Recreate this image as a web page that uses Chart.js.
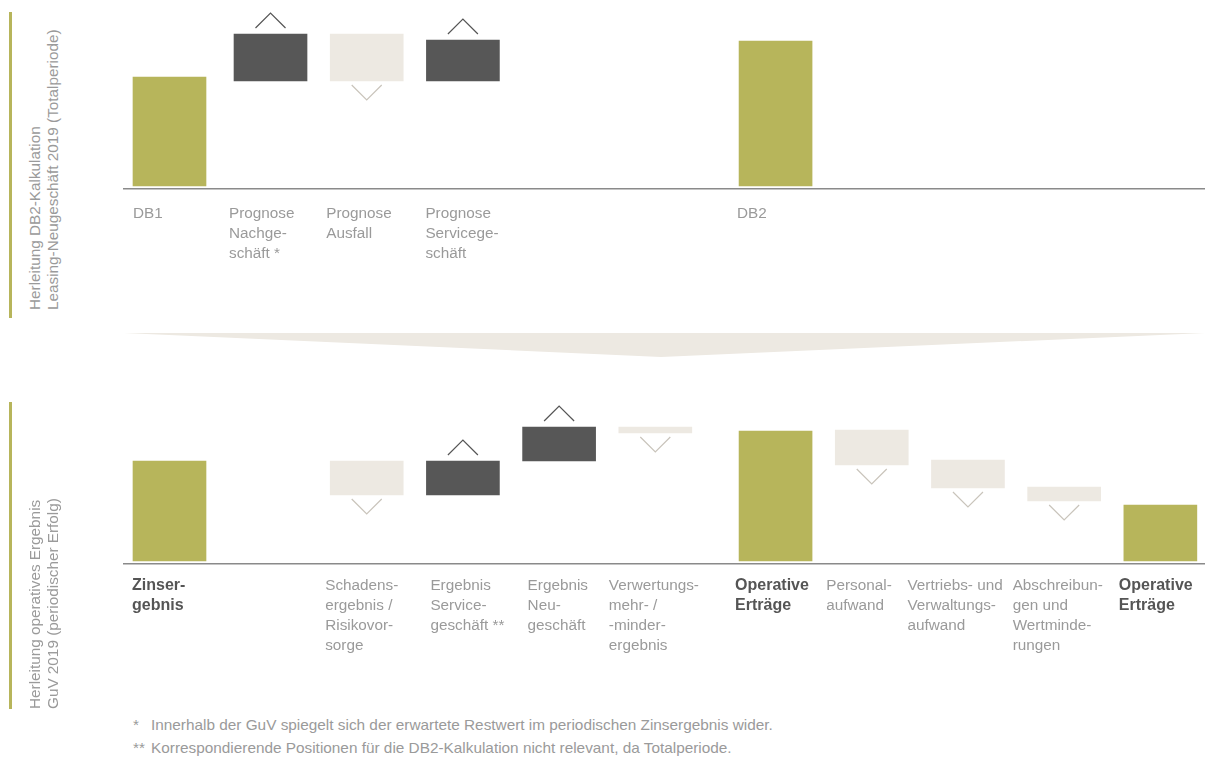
<!DOCTYPE html>
<html><head><meta charset="utf-8">
<script src="https://cdn.jsdelivr.net/npm/chart.js@4"></script>
<style>
html,body{margin:0;padding:0;background:#fff;}
body{width:1205px;height:758px;position:relative;overflow:hidden;font-family:"Liberation Sans",Arial,sans-serif;}
.olive{position:absolute;left:9px;width:3px;background:#b7b55b;}
.side{position:absolute;left:26px;width:320px;transform:rotate(-90deg);transform-origin:0 0;font-size:15.3px;line-height:18px;color:#9a9a9a;white-space:nowrap;}
canvas{position:absolute;left:0;}
.note{position:absolute;left:133px;font-size:15.35px;line-height:18px;color:#9a9a9a;white-space:nowrap;}
.note span{display:inline-block;width:18px;}
</style></head>
<body>
<div class="olive" style="top:12px;height:306px"></div>
<div class="side" style="top:310px">Herleitung DB2-Kalkulation<br>Leasing-Neugeschäft 2019 (Totalperiode)</div>
<canvas id="c1" width="1205" height="300" style="top:0"></canvas>

<svg style="position:absolute;left:0;top:0" width="1205" height="400"><polygon points="124,333 1205,333 661,357" fill="#ede9e2"/></svg>

<div class="olive" style="top:402px;height:307px"></div>
<div class="side" style="top:709px">Herleitung operatives Ergebnis<br>GuV 2019 (periodischer Erfolg)</div>
<canvas id="c2" width="1205" height="300" style="top:390px"></canvas>

<div class="note" style="top:716px"><span>*</span>Innerhalb der GuV spiegelt sich der erwartete Restwert im periodischen Zinsergebnis wider.</div>
<div class="note" style="top:739px"><span>**</span>Korrespondierende Positionen für die DB2-Kalkulation nicht relevant, da Totalperiode.</div>

<script>
// ---- data ----
const topCategories = [['DB1'], ['Prognose','Nachge-','schäft *'], ['Prognose','Ausfall'], ['Prognose','Servicege-','schäft'], null, null, ['DB2']];
const topStart = [0, 105, 105, 105, null, null, 0];
const topEnd   = [109, 152, 152, 146, null, null, 145];
const topKinds = ['total', 'plus', 'minus', 'plus', null, null, 'total'];

const bottomCategories = [['Zinser-','gebnis'], null, ['Schadens-','ergebnis /','Risikovor-','sorge'], ['Ergebnis','Service-','geschäft **'], ['Ergebnis','Neu-','geschäft'], ['Verwertungs-','mehr- /','-minder-','ergebnis'], ['Operative','Erträge'], ['Personal-','aufwand'], ['Vertriebs- und','Verwaltungs-','aufwand'], ['Abschreibun-','gen und','Wertminde-','rungen'], ['Operative','Erträge']];
const bottomStart = [0, null, 66, 66, 100, 128, 0, 96, 73, 60, 0];
const bottomEnd   = [100, null, 100, 100, 134, 134, 130, 131, 101, 74, 56];
const bottomKinds = ['total', null, 'minus', 'plus', 'plus', 'minus', 'total', 'minus', 'minus', 'minus', 'total'];

// ---- layout / style ----
const FAMILY = '"Liberation Sans", Arial, sans-serif';
const COLORS = { total: '#b7b55b', plus: '#575757', minus: '#ede9e2' };
const BAR_W = 73;
const PX_PER_SLOT = 96.2;
const FIRST_CENTER = 169.5, AREA_LEFT = 124, AREA_RIGHT = 1205;
const X_MIN = -(FIRST_CENTER - AREA_LEFT) / PX_PER_SLOT;
const X_MAX = X_MIN + (AREA_RIGHT - AREA_LEFT) / PX_PER_SLOT;
const slotPos = i => i + (i >= 1 ? 0.05 : 0) + (i >= 6 ? 0.25 : 0);
// label text offset (px) from the left edge of its bar, per slot
const topLabelNudge    = [0, -5, -4, -1, 0, 0, -2];
const bottomLabelNudge = [-1, 0, -5, 4, 5, -10, -4, -9, -24, -15, -5];

const chevronPlugin = {
  id: 'chevrons',
  afterDatasetsDraw(chart) {
    const meta = chart.getDatasetMeta(0);
    const kinds = chart.data.datasets[0].kinds;
    const ctx = chart.ctx;
    meta.data.forEach((bar, j) => {
      const k = kinds[j];
      if (k !== 'plus' && k !== 'minus') return;
      const p = bar.getProps(['x', 'y', 'base'], true);
      const top = Math.min(p.y, p.base), bottom = Math.max(p.y, p.base);
      ctx.save();
      ctx.lineWidth = 1.2;
      ctx.beginPath();
      if (k === 'plus') {
        ctx.strokeStyle = '#555555';
        ctx.moveTo(p.x - 15, top - 6); ctx.lineTo(p.x, top - 21); ctx.lineTo(p.x + 15, top - 6);
      } else {
        ctx.strokeStyle = '#c9c4bb';
        ctx.moveTo(p.x - 15, bottom + 4); ctx.lineTo(p.x, bottom + 19); ctx.lineTo(p.x + 15, bottom + 4);
      }
      ctx.stroke();
      ctx.restore();
    });
  }
};

function makeChart(id, cats, starts, ends, kinds, nudge, boldTotals, cfg) {
  const idx = cats.map((c, i) => i).filter(i => cats[i] !== null);
  const data = idx.map(i => ({ x: slotPos(i), y: [starts[i], ends[i]] }));
  const colors = idx.map(i => COLORS[kinds[i]]);
  const tickVals = idx.map(i => slotPos(i) - (BAR_W / 2 - nudge[i]) / PX_PER_SLOT);
  const labels = idx.map(i => cats[i]);
  const bolds = idx.map(i => boldTotals && kinds[i] === 'total');
  return new Chart(document.getElementById(id), {
    type: 'bar',
    data: { datasets: [{ data, backgroundColor: colors, barThickness: BAR_W, borderWidth: 0, kinds: idx.map(i => kinds[i]) }] },
    options: {
      responsive: false,
      animation: false,
      layout: { padding: { left: AREA_LEFT, right: 0, top: 0, bottom: 0 } },
      plugins: { legend: { display: false }, tooltip: { enabled: false } },
      scales: {
        x: {
          type: 'linear', min: X_MIN, max: X_MAX, offset: false,
          grid: { display: false, drawTicks: false, offset: false },
          border: { display: true, color: '#8a8a8a', width: 1.5 },
          afterBuildTicks: s => { s.ticks = tickVals.map(v => ({ value: v })); },
          afterFit: s => { s.height = cfg.axisH; s.paddingLeft = 0; s.paddingRight = 0; },
          ticks: {
            autoSkip: false, maxRotation: 0, minRotation: 0, align: 'start', padding: cfg.tickPad,
            callback: (v, i) => labels[i],
            font: c => bolds[c.index]
              ? { family: FAMILY, size: 16, weight: 'bold', lineHeight: '20px' }
              : { family: FAMILY, size: 15.3, weight: 'normal', lineHeight: '20px' },
            color: c => bolds[c.index] ? '#555555' : '#9a9a9a'
          }
        },
        y: { display: false, min: cfg.yMin, max: cfg.yMax }
      }
    },
    plugins: [chevronPlugin]
  });
}

makeChart('c1', topCategories, topStart, topEnd, topKinds, topLabelNudge, false, { axisH: 111.5, yMin: -2.5, yMax: 186, tickPad: 15.5 });
makeChart('c2', bottomCategories, bottomStart, bottomEnd, bottomKinds, bottomLabelNudge, true, { axisH: 126, yMin: -3, yMax: 171, tickPad: 12 });
</script>
</body></html>
